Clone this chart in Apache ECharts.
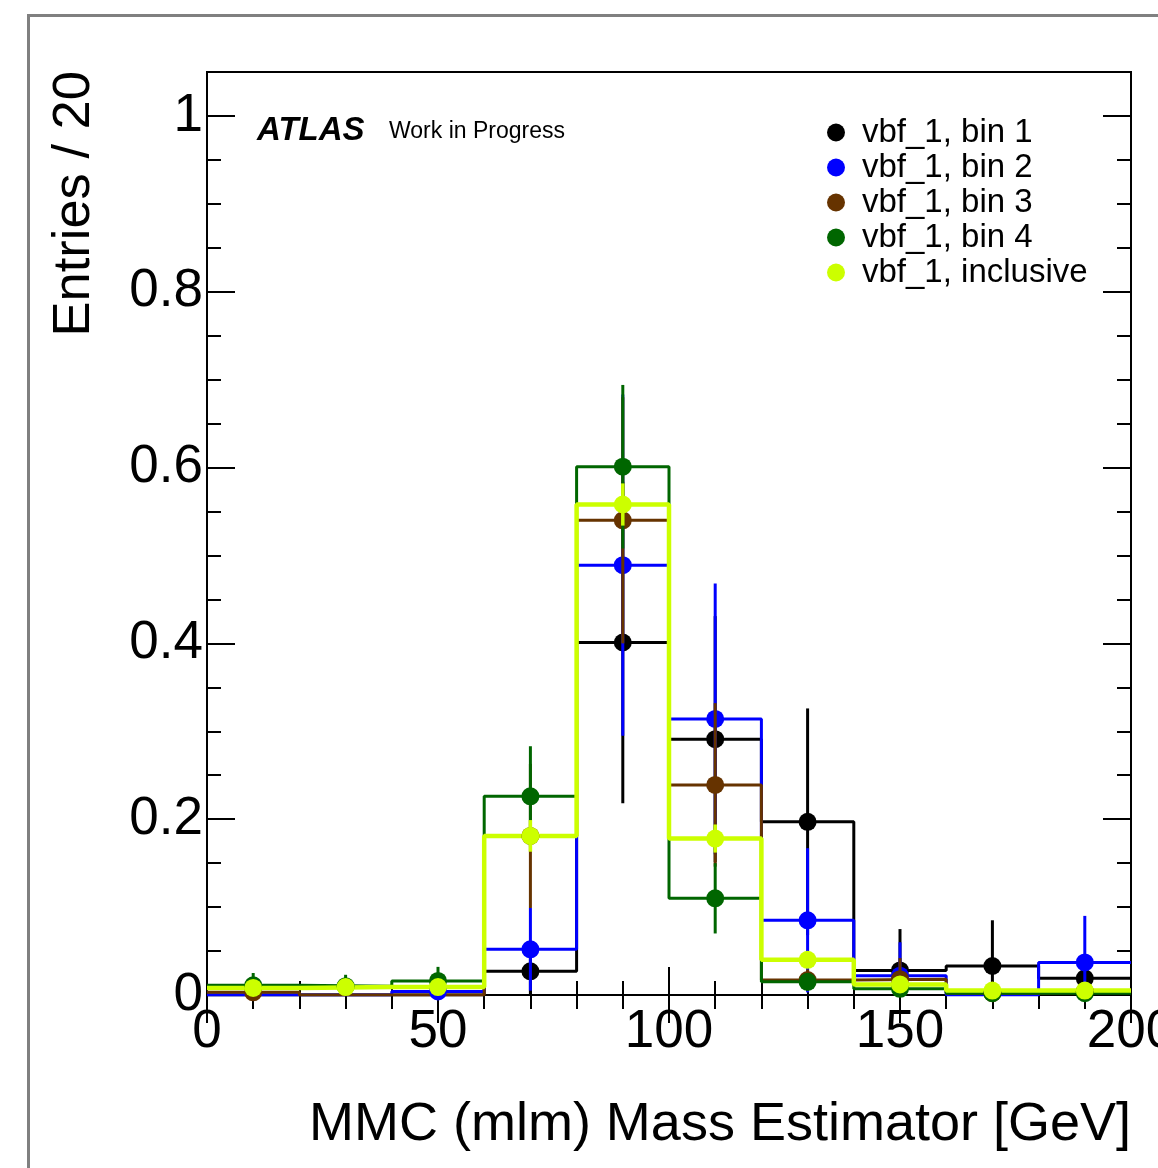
<!DOCTYPE html>
<html><head><meta charset="utf-8">
<script src="https://cdn.jsdelivr.net/npm/echarts@6/dist/echarts.min.js"></script>
<style>html,body{margin:0;padding:0;background:#fff}#c{width:1158px;height:1168px}</style>
</head><body><div id="c"></div>
<script>
// ---- data ----
const binEdges = [0, 20, 40, 60, 80, 100, 120, 140, 160, 180, 200];
const binCenters = [10, 30, 50, 70, 90, 110, 130, 150, 170, 190];
const seriesNames = ['vbf_1, bin 1', 'vbf_1, bin 2', 'vbf_1, bin 3', 'vbf_1, bin 4', 'vbf_1, inclusive'];
const seriesColors = ['#000000', '#0000ff', '#663300', '#006600', '#ccff00'];

const bin1Values = [0, 0, 0, 0.027, 0.401, 0.291, 0.197, 0.028, 0.033, 0.019];
const bin1Errors = [0, 0, 0, 0.027, 0.183, 0.140, 0.129, 0.047, 0.052, 0.020];
const bin2Values = [0, 0, 0.004, 0.052, 0.489, 0.314, 0.085, 0.022, 0, 0.037];
const bin2Errors = [0, 0, 0.004, 0.047, 0.194, 0.154, 0.082, 0.038, 0, 0.053];
const bin3Values = [0.003, 0, 0, 0.181, 0.540, 0.239, 0.017, 0.018, 0.002, 0.004];
const bin3Errors = [0.003, 0, 0, 0.082, 0.140, 0.093, 0.012, 0.024, 0.002, 0.004];
const bin4Values = [0.011, 0.010, 0.016, 0.226, 0.601, 0.110, 0.015, 0.007, 0.002, 0.002];
const bin4Errors = [0.014, 0.013, 0.016, 0.057, 0.093, 0.040, 0.010, 0.006, 0.002, 0.002];
const inclValues = [0.008, 0.009, 0.009, 0.181, 0.558, 0.178, 0.040, 0.012, 0.005, 0.005];
const inclErrors = [0.003, 0.003, 0.004, 0.018, 0.024, 0.016, 0.008, 0.004, 0.002, 0.002];

const yTickValues = [0, 0.2, 0.4, 0.6, 0.8, 1.0];
const yTickLabels = ['0', '0.2', '0.4', '0.6', '0.8', '1'];
const xTickValues = [0, 50, 100, 150, 200];
const xTickLabels = ['0', '50', '100', '150', '200'];

const allValues = [bin1Values, bin2Values, bin3Values, bin4Values, inclValues];
const allErrors = [bin1Errors, bin2Errors, bin3Errors, bin4Errors, inclErrors];
const lineWidths = [3, 3, 3, 3, 4.5];

const FONT = '"Liberation Sans", Arial, Helvetica, sans-serif';

function histSeries(i) {
  const vals = allValues[i];
  const data = binEdges.map((e, k) => [e, vals[Math.min(k, vals.length - 1)]]);
  return {
    type: 'line', name: 'hist' + i, step: 'end', data,
    showSymbol: false, symbol: 'none', z: 2, silent: true,
    lineStyle: { color: seriesColors[i], width: lineWidths[i] },
    itemStyle: { color: seriesColors[i] }
  };
}
function errSeries(i) {
  const color = seriesColors[i];
  const lw = lineWidths[i] === 3 ? 3 : 3.5;
  const data = binCenters.map((c, k) => [c, allValues[i][k], allErrors[i][k]]).filter(d => d[1] > 0);
  return {
    type: 'custom', name: seriesNames[i], z: 5, data,
    itemStyle: { color },
    encode: { x: 0, y: 1 },
    renderItem: (params, api) => {
      const x = api.value(0), y = api.value(1), e = api.value(2);
      const p = api.coord([x, y]);
      const t = api.coord([x, y + e]);
      const b = api.coord([x, Math.max(0, y - e)]);
      return {
        type: 'group', children: [
          { type: 'line', shape: { x1: p[0], y1: t[1], x2: p[0], y2: b[1] }, style: { stroke: color, lineWidth: lw } },
          { type: 'circle', shape: { cx: p[0], cy: p[1], r: 9 }, style: { fill: color } }
        ]
      };
    }
  };
}

const series = [];
for (let i = 0; i < 5; i++) series.push(histSeries(i));
for (let i = 0; i < 5; i++) series.push(errSeries(i));

function xAxisDef(pos, labels) {
  return {
    type: 'value', position: pos, min: 0, max: 200, interval: 50,
    axisLine: { show: false },
    axisTick: { show: true, inside: true, length: 28, lineStyle: { color: '#000', width: 2 } },
    minorTick: { show: true, splitNumber: 5, length: 14, lineStyle: { color: '#000', width: 2 } },
    splitLine: { show: false }, minorSplitLine: { show: false },
    axisLabel: labels ? {
      show: true, fontSize: 53, fontFamily: FONT, color: '#000', margin: 11,
      hideOverlap: false,
      formatter: v => { const k = xTickValues.indexOf(v); return k >= 0 ? xTickLabels[k] : ''; }
    } : { show: false }
  };
}
function yAxisDef(pos, interval, len, labels) {
  return {
    type: 'value', position: pos, min: 0, max: 1.05, interval,
    axisLine: { show: false },
    axisTick: { show: true, inside: true, length: len, lineStyle: { color: '#000', width: 2 } },
    splitLine: { show: false },
    axisLabel: labels ? {
      show: true, fontSize: 53, fontFamily: FONT, color: '#000', margin: 4,
      formatter: v => { const k = yTickValues.findIndex(t => Math.abs(t - v) < 1e-6); return k >= 0 ? yTickLabels[k] : ''; }
    } : { show: false }
  };
}

const option = {
  animation: false,
  backgroundColor: '#fff',
  grid: { left: 207, top: 72, right: 27, bottom: 173, show: true, borderColor: '#000', borderWidth: 2, backgroundColor: 'transparent', containLabel: false, outerBoundsMode: 'none' },
  xAxis: [xAxisDef('bottom', true), xAxisDef('top', false)],
  yAxis: [yAxisDef('left', 0.2, 28, true), yAxisDef('left', 0.05, 14, false), yAxisDef('right', 0.2, 28, false), yAxisDef('right', 0.05, 14, false)],
  legend: {
    orient: 'vertical', left: 822, top: 111,
    data: seriesNames.map(n => ({ name: n, icon: 'circle' })),
    itemWidth: 18, itemHeight: 18, itemGap: 2,
    textStyle: { fontSize: 33, fontFamily: FONT, color: '#000', lineHeight: 33, padding: [0, 0, 0, 12] },
    selectedMode: false
  },
  graphic: [
    { type: 'rect', shape: { x: 28.5, y: 15.5, width: 1300, height: 1300 }, style: { fill: 'none', stroke: '#808080', lineWidth: 3 }, z: 100 },
    { type: 'text', x: 257, y: 131, style: { text: 'ATLAS', font: 'italic bold 33px ' + FONT, fill: '#000', textAlign: 'left', textVerticalAlign: 'middle' }, z: 100 },
    { type: 'text', x: 389, y: 132, style: { text: 'Work in Progress', font: '23px ' + FONT, fill: '#000', textAlign: 'left', textVerticalAlign: 'middle' }, z: 100 },
    { type: 'text', x: 75, y: 71, rotation: Math.PI / 2, style: { text: 'Entries / 20', font: '52.5px ' + FONT, fill: '#000', textAlign: 'right', textVerticalAlign: 'middle' }, z: 100 },
    { type: 'text', x: 1131, y: 1125, style: { text: 'MMC (mlm) Mass Estimator [GeV]', font: '54px ' + FONT, fill: '#000', textAlign: 'right', textVerticalAlign: 'middle' }, z: 100 }
  ],
  series
};
const chart = echarts.init(document.getElementById('c'), null, { renderer: 'canvas' });
chart.setOption(option);
</script>
</body></html>
